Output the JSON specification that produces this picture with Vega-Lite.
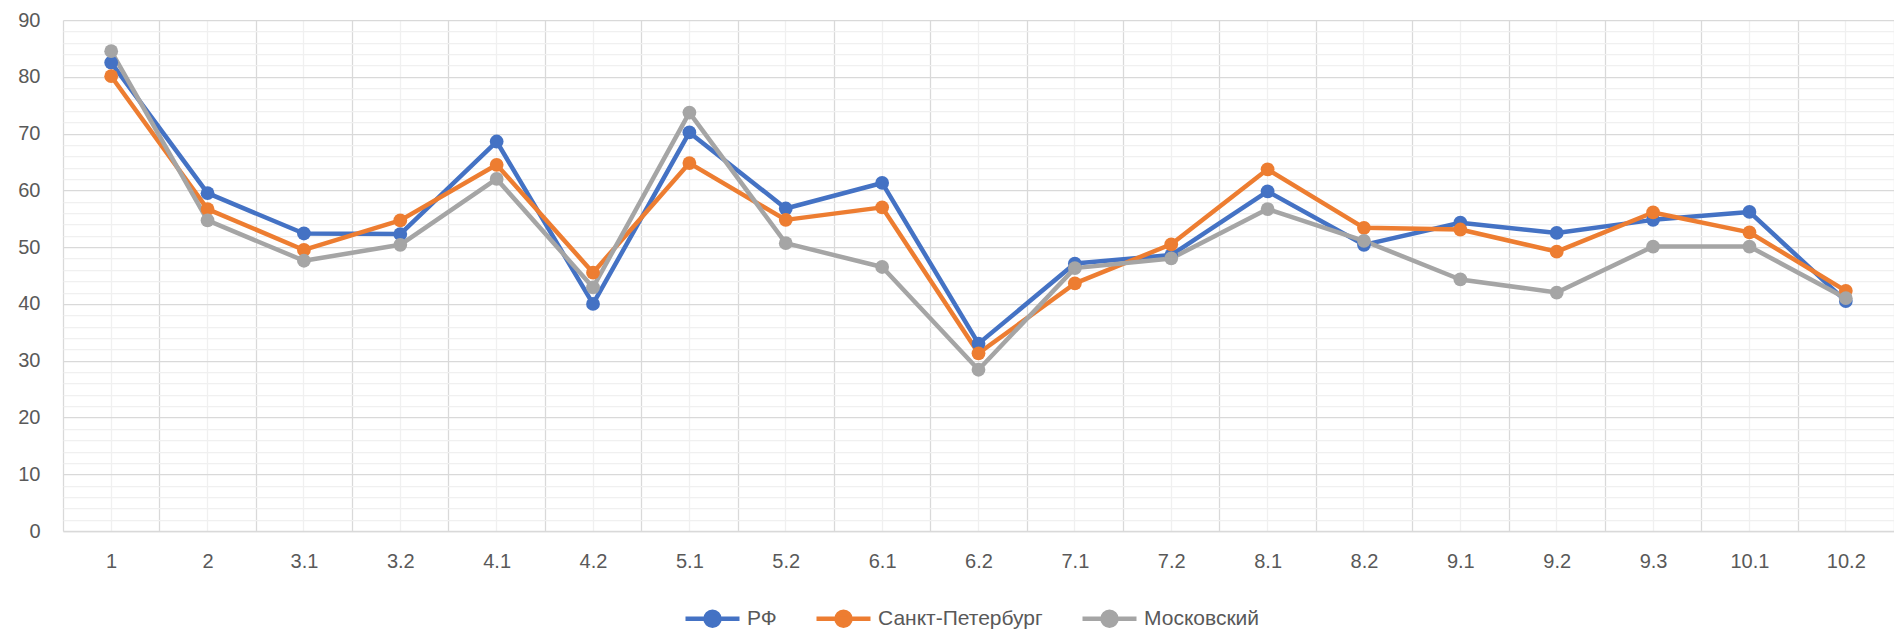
{
  "$schema": "https://vega.github.io/schema/vega-lite/v6.json",
  "width": 1831,
  "height": 511,
  "autosize": {"type": "none"},
  "padding": {"left": 63, "top": 20, "right": 0, "bottom": 101},
  "background": "white",
  "config": {
    "view": {"stroke": null},
    "font": "Liberation Sans",
    "axis": {"labelFont": "Liberation Sans", "labelColor": "#595959", "labelFontSize": 20}
  },
  "data": {
    "values": [
      {"cat": "1", "series": "РФ", "value": 82.5},
      {"cat": "2", "series": "РФ", "value": 59.5},
      {"cat": "3.1", "series": "РФ", "value": 52.4},
      {"cat": "3.2", "series": "РФ", "value": 52.3},
      {"cat": "4.1", "series": "РФ", "value": 68.6},
      {"cat": "4.2", "series": "РФ", "value": 40.0},
      {"cat": "5.1", "series": "РФ", "value": 70.2},
      {"cat": "5.2", "series": "РФ", "value": 56.8},
      {"cat": "6.1", "series": "РФ", "value": 61.3},
      {"cat": "6.2", "series": "РФ", "value": 33.0},
      {"cat": "7.1", "series": "РФ", "value": 47.1},
      {"cat": "7.2", "series": "РФ", "value": 48.6},
      {"cat": "8.1", "series": "РФ", "value": 59.8},
      {"cat": "8.2", "series": "РФ", "value": 50.4},
      {"cat": "9.1", "series": "РФ", "value": 54.3},
      {"cat": "9.2", "series": "РФ", "value": 52.5},
      {"cat": "9.3", "series": "РФ", "value": 54.8},
      {"cat": "10.1", "series": "РФ", "value": 56.2},
      {"cat": "10.2", "series": "РФ", "value": 40.5},
      {"cat": "1", "series": "Санкт-Петербург", "value": 80.1},
      {"cat": "2", "series": "Санкт-Петербург", "value": 56.7},
      {"cat": "3.1", "series": "Санкт-Петербург", "value": 49.5},
      {"cat": "3.2", "series": "Санкт-Петербург", "value": 54.7},
      {"cat": "4.1", "series": "Санкт-Петербург", "value": 64.5},
      {"cat": "4.2", "series": "Санкт-Петербург", "value": 45.5},
      {"cat": "5.1", "series": "Санкт-Петербург", "value": 64.8},
      {"cat": "5.2", "series": "Санкт-Петербург", "value": 54.8},
      {"cat": "6.1", "series": "Санкт-Петербург", "value": 57.0},
      {"cat": "6.2", "series": "Санкт-Петербург", "value": 31.3},
      {"cat": "7.1", "series": "Санкт-Петербург", "value": 43.6},
      {"cat": "7.2", "series": "Санкт-Петербург", "value": 50.5},
      {"cat": "8.1", "series": "Санкт-Петербург", "value": 63.7},
      {"cat": "8.2", "series": "Санкт-Петербург", "value": 53.4},
      {"cat": "9.1", "series": "Санкт-Петербург", "value": 53.1},
      {"cat": "9.2", "series": "Санкт-Петербург", "value": 49.2},
      {"cat": "9.3", "series": "Санкт-Петербург", "value": 56.1},
      {"cat": "10.1", "series": "Санкт-Петербург", "value": 52.6},
      {"cat": "10.2", "series": "Санкт-Петербург", "value": 42.3},
      {"cat": "1", "series": "Московский", "value": 84.5},
      {"cat": "2", "series": "Московский", "value": 54.7},
      {"cat": "3.1", "series": "Московский", "value": 47.6},
      {"cat": "3.2", "series": "Московский", "value": 50.4},
      {"cat": "4.1", "series": "Московский", "value": 62.0},
      {"cat": "4.2", "series": "Московский", "value": 42.9},
      {"cat": "5.1", "series": "Московский", "value": 73.7},
      {"cat": "5.2", "series": "Московский", "value": 50.7},
      {"cat": "6.1", "series": "Московский", "value": 46.5},
      {"cat": "6.2", "series": "Московский", "value": 28.4},
      {"cat": "7.1", "series": "Московский", "value": 46.3},
      {"cat": "7.2", "series": "Московский", "value": 48.0},
      {"cat": "8.1", "series": "Московский", "value": 56.7},
      {"cat": "8.2", "series": "Московский", "value": 51.1},
      {"cat": "9.1", "series": "Московский", "value": 44.3},
      {"cat": "9.2", "series": "Московский", "value": 42.0},
      {"cat": "9.3", "series": "Московский", "value": 50.1},
      {"cat": "10.1", "series": "Московский", "value": 50.1},
      {"cat": "10.2", "series": "Московский", "value": 41.0}
    ]
  },
  "resolve": {"axis": {"x": "independent", "y": "independent"}},
  "layer": [
    {
      "mark": {"type": "line", "strokeWidth": 4.5, "strokeCap": "round", "strokeJoin": "round"},
      "encoding": {
        "x": {
          "field": "cat", "type": "nominal",
          "sort": ["1","2","3.1","3.2","4.1","4.2","5.1","5.2","6.1","6.2","7.1","7.2","8.1","8.2","9.1","9.2","9.3","10.1","10.2"],
          "scale": {"type": "band", "paddingInner": 0, "paddingOuter": 0},
          "bandPosition": 0.5,
          "axis": {"orient": "top", "title": null, "labels": false, "ticks": false, "domain": false, "grid": true, "bandPosition": 0.5, "gridColor": "#f0f0f0", "gridWidth": 1.25}
        },
        "y": {
          "field": "value", "type": "quantitative",
          "scale": {"domain": [0, 90], "nice": false, "zero": true},
          "axis": {"orient": "right", "title": null, "labels": false, "ticks": false, "domain": false, "grid": true, "gridColor": "#f0f0f0", "gridWidth": 1.25,
            "values": [2,4,6,8,12,14,16,18,22,24,26,28,32,34,36,38,42,44,46,48,52,54,56,58,62,64,66,68,72,74,76,78,82,84,86,88]}
        },
        "color": {
          "field": "series", "type": "nominal",
          "scale": {"domain": ["РФ", "Санкт-Петербург", "Московский"], "range": ["#4472C4", "#ED7D31", "#A5A5A5"]},
          "legend": {
            "title": null, "orient": "none", "direction": "horizontal", "legendX": 620, "legendY": 569,
            "padding": 0, "symbolType": "M-1,0H1M0.26,0A0.26,0.26 0 1,1 -0.26,0A0.26,0.26 0 1,1 0.26,0",
            "symbolSize": 2916, "symbolStrokeWidth": 4.5, "labelFontSize": 21, "labelColor": "#595959",
            "labelFont": "Liberation Sans", "labelOffset": 5, "columnPadding": 30, "labelLimit": 400,
            "encode": {"symbols": {"update": {"fill": {"scale": "color", "field": "value"}, "stroke": {"scale": "color", "field": "value"}, "opacity": {"value": 1}}}}
          }
        }
      }
    },
    {
      "mark": {"type": "point", "filled": true, "size": 190, "opacity": 1},
      "encoding": {
        "x": {
          "field": "cat", "type": "nominal",
          "sort": ["1","2","3.1","3.2","4.1","4.2","5.1","5.2","6.1","6.2","7.1","7.2","8.1","8.2","9.1","9.2","9.3","10.1","10.2"],
          "bandPosition": 0.5,
          "axis": {"orient": "bottom", "title": null, "labelAngle": 0, "tickBand": "extent", "ticks": false, "domain": true, "domainColor": "#d9d9d9", "domainWidth": 1.5,
            "grid": true, "gridColor": "#d9d9d9", "gridWidth": 1.25, "labelPadding": 20}
        },
        "y": {
          "field": "value", "type": "quantitative",
          "axis": {"orient": "left", "title": null, "values": [0,10,20,30,40,50,60,70,80,90], "ticks": false, "domain": false,
            "grid": true, "gridColor": "#d9d9d9", "gridWidth": 1.25, "labelPadding": 23}
        },
        "color": {"field": "series", "type": "nominal"}
      }
    }
  ]
}
